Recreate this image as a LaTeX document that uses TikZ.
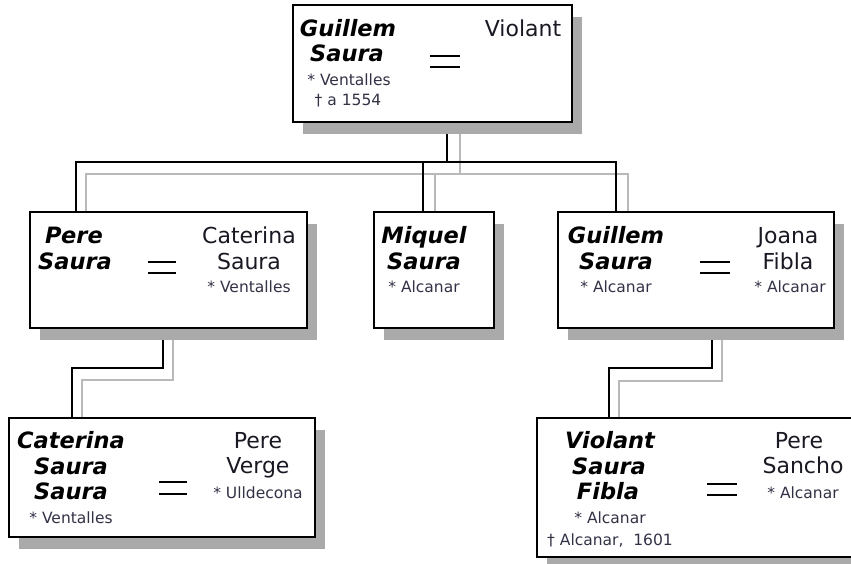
\documentclass[tikz,border=0pt]{standalone}
\usepackage{fontspec}
\setmainfont{DejaVu Sans}
\usetikzlibrary{shadows,backgrounds}
\definecolor{shadowgray}{RGB}{170,170,170}
\definecolor{linegray}{RGB}{185,185,185}
\definecolor{smalltext}{RGB}{50,50,70}
\definecolor{nametext}{RGB}{25,25,35}
\tikzset{
  person/.style={draw=black, line width=2pt, fill=white, rectangle, inner sep=0pt,
    drop shadow={shadow xshift=10pt, shadow yshift=-12pt, fill=shadowgray, opacity=1}},
  bk/.style={draw=black, line width=2pt},
  gy/.style={draw=linegray, line width=2pt},
  mainname/.style={anchor=base, font=\fontsize{22.5}{26}\selectfont\bfseries\itshape, text=black, inner sep=0pt},
  spouse/.style={anchor=base, font=\fontsize{22}{26}\selectfont, text=nametext, inner sep=0pt},
  info/.style={anchor=base, font=\fontsize{15.5}{18}\selectfont, text=smalltext, inner sep=0pt},
  eqline/.style={line width=2pt, draw=black},
}
\begin{document}
\begin{tikzpicture}[x=1pt,y=-1pt]
\clip (0,0) rectangle (851,564);
% --- boxes ---
\node[person, minimum width=279pt, minimum height=117pt] (top) at (432.5,63.5) {};
\node[person, minimum width=277pt, minimum height=116pt] (pere) at (168.5,270) {};
\node[person, minimum width=120pt, minimum height=116pt] (miquel) at (434,270) {};
\node[person, minimum width=276pt, minimum height=116pt] (guillem) at (696,270) {};
\node[person, minimum width=306pt, minimum height=119pt] (caterina) at (162,477.5) {};
\node[person, minimum width=328pt, minimum height=139pt] (violant) at (701,487.5) {};
% --- connector bend points ---
\coordinate (b0) at (447,162);
\coordinate (bL) at (76,162);
\coordinate (bM) at (423,162);
\coordinate (bR) at (616,162);
\coordinate (g0) at (460,174);
\coordinate (gL) at (86,174);
\coordinate (gM) at (435,174);
\coordinate (gR) at (628,174);
\coordinate (pb1) at (163,368);
\coordinate (pb2) at (72,368);
\coordinate (pg1) at (173,380);
\coordinate (pg2) at (82,380);
\coordinate (vb1) at (712,368);
\coordinate (vb2) at (609,368);
\coordinate (vg1) at (722,381);
\coordinate (vg2) at (619,381);
% --- connectors (under the boxes) ---
\begin{scope}[on background layer]
\fill[white] (0,0) rectangle (851,564);
% gray lines
\draw[gy] (top.south -| g0) -- (g0);
\draw[gy] (pere.north -| gL) -- (gL) -- (gR) -- (guillem.north -| gR);
\draw[gy] (gM) -- (miquel.north -| gM);
\draw[gy] (pere.south -| pg1) -- (pg1) -- (pg2) -- (caterina.north -| pg2);
\draw[gy] (guillem.south -| vg1) -- (vg1) -- (vg2) -- (violant.north -| vg2);
% black lines
\draw[bk] (top.south -| b0) -- (b0);
\draw[bk] (pere.north -| bL) -- (bL) -- (bR) -- (guillem.north -| bR);
\draw[bk] (bM) -- (miquel.north -| bM);
\draw[bk] (pere.south -| pb1) -- (pb1) -- (pb2) -- (caterina.north -| pb2);
\draw[bk] (guillem.south -| vb1) -- (vb1) -- (vb2) -- (violant.north -| vb2);
\end{scope}
% --- top box text ---
\node[mainname] (t1) at (348,37) {Guillem};
\node[mainname] (t2) at (347,62) {Saura};
\node[info] (t3) at (349,86) {* Ventalles};
\node[info] (t4) at (348,106) {† a 1554};
\node[spouse] (t5) at (523,37) {Violant};
\draw[eqline] (430,56) -- (460,56) (430,67) -- (460,67);
% --- Pere box ---
\node[mainname] (p1) at (74,243) {Pere};
\node[mainname] (p2) at (75,269) {Saura};
\node[spouse] (p3) at (249,243) {Caterina};
\node[spouse] (p4) at (249,269) {Saura};
\node[info] (p5) at (249,292) {* Ventalles};
\draw[eqline] (148,262) -- (176,262) (148,273) -- (176,273);
% --- Miquel box ---
\node[mainname] (m1) at (424,243) {Miquel};
\node[mainname] (m2) at (424,269) {Saura};
\node[info] (m3) at (424,292) {* Alcanar};
% --- Guillem box ---
\node[mainname] (g1n) at (616,243) {Guillem};
\node[mainname] (g2n) at (616,269) {Saura};
\node[info] (g3n) at (616,292) {* Alcanar};
\node[spouse] (g4n) at (788,243) {Joana};
\node[spouse] (g5n) at (788,269) {Fibla};
\node[info] (g6n) at (790,292) {* Alcanar};
\draw[eqline] (700,262) -- (730,262) (700,273) -- (730,273);
% --- Caterina box ---
\node[mainname] (c1) at (71,448) {Caterina};
\node[mainname] (c2) at (71,474) {Saura};
\node[mainname] (c3) at (71,499) {Saura};
\node[info] (c4) at (71,523) {* Ventalles};
\node[spouse] (c5) at (258,448) {Pere};
\node[spouse] (c6) at (258,473) {Verge};
\node[info] (c7) at (258,498) {* Ulldecona};
\draw[eqline] (159,482) -- (187,482) (159,494) -- (187,494);
% --- Violant box ---
\node[mainname] (v1) at (610,448) {Violant};
\node[mainname] (v2) at (609,474) {Saura};
\node[mainname] (v3) at (608,499) {Fibla};
\node[info] (v4) at (610,523) {* Alcanar};
\node[info] (v5) at (610,545) {† Alcanar,~ 1601};
\node[spouse] (v6) at (799,448) {Pere};
\node[spouse] (v7) at (803,473) {Sancho};
\node[info] (v8) at (803,498) {* Alcanar};
\draw[eqline] (707,484) -- (737,484) (707,495) -- (737,495);
\end{tikzpicture}
\end{document}
